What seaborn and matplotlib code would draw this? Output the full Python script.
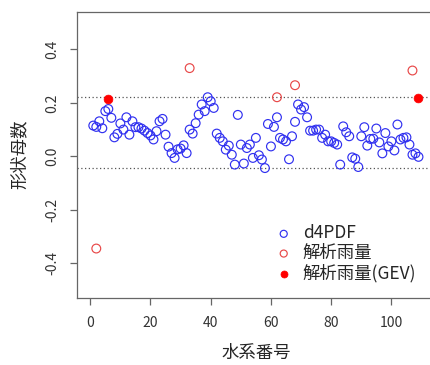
import matplotlib
matplotlib.use("Agg")
import matplotlib.pyplot as plt
import numpy as np
import pandas as pd
import seaborn as sns

# shape parameter per river system (d4PDF ensemble), index 1..109
d4pdf = [0.115, 0.110, 0.131, 0.105, 0.169, 0.177, 0.144, 0.071, 0.084, 0.123,
         0.100, 0.146, 0.081, 0.131, 0.109, 0.109, 0.104, 0.096, 0.087, 0.078,
         0.063, 0.094, 0.131, 0.140, 0.081, 0.036, 0.012, -0.006, 0.026, 0.029,
         0.041, 0.012, 0.100, 0.085, 0.124, 0.156, 0.194, 0.169, 0.221, 0.206,
         0.181, 0.085, 0.069, 0.056, 0.025, 0.040, 0.006, -0.031, 0.155, 0.044,
         -0.027, 0.031, 0.044, -0.006, 0.069, 0.004, -0.012, -0.044, 0.121, 0.037,
         0.110, 0.146, 0.069, 0.063, 0.056, -0.011, 0.075, 0.129, 0.194, 0.175,
         0.184, 0.146, 0.096, 0.096, 0.100, 0.100, 0.069, 0.081, 0.056, 0.056,
         0.050, 0.044, -0.031, 0.112, 0.090, 0.075, -0.004, -0.009, -0.040, 0.075,
         0.109, 0.040, 0.065, 0.066, 0.104, 0.052, 0.011, 0.087, 0.037, 0.056,
         0.022, 0.119, 0.063, 0.069, 0.071, 0.044, 0.006, 0.011, -0.002]
d4pdf_no = list(range(1, len(d4pdf) + 1))

# radar-raingauge analysed rainfall
obs_no = [2, 33, 62, 68, 107]
obs_val = [-0.345, 0.330, 0.221, 0.266, 0.321]

# analysed rainfall (GEV)
gev_no = [6, 109]
gev_val = [0.215, 0.218]

ytick_vals = [-0.4, -0.2, 0.0, 0.2, 0.4]
ytick_labels = ['-0.4', '-0.2', '0.0', '0.2', '0.4']

df_d4 = pd.DataFrame({"no": d4pdf_no, "xi": d4pdf})
df_obs = pd.DataFrame({"no": obs_no, "xi": obs_val})
df_gev = pd.DataFrame({"no": gev_no, "xi": gev_val})

sns.set_style("white")
plt.rcParams['font.family'] = ['Noto Sans CJK JP', 'DejaVu Sans']

fig = plt.figure(figsize=(4.31, 3.65), dpi=100)
ax = fig.add_axes([0.1787, 0.1836, 0.83, 0.7836])

# dotted lines at the d4PDF max / min
ax.axhline(max(d4pdf), color='#555555', ls=(0, (1, 2)), lw=0.9, zorder=1)
ax.axhline(min(d4pdf), color='#555555', ls=(0, (1, 2)), lw=0.9, zorder=1)

sns.scatterplot(data=df_d4, x="no", y="xi", ax=ax, marker='o', s=40,
                facecolor='none', edgecolor='#3030f0', linewidth=0.85,
                label='d4PDF', zorder=3)
sns.scatterplot(data=df_obs, x="no", y="xi", ax=ax, marker='o', s=40,
                facecolor='none', edgecolor='#e84848', linewidth=0.85,
                label='解析雨量', zorder=3)
sns.scatterplot(data=df_gev, x="no", y="xi", ax=ax, marker='o', s=40,
                color='#ff0000', edgecolor='#ff0000', linewidth=0.5,
                label='解析雨量(GEV)', zorder=4)

ax.set_xlim(-4.4, 114.4)
ax.set_ylim(-0.53, 0.54)
ax.set_xticks([0, 20, 40, 60, 80, 100])
ax.set_yticks(ytick_vals)
ax.set_yticklabels(ytick_labels)
for t in ax.get_yticklabels():
    t.set_rotation(90)
    t.set_rotation_mode('anchor')
    t.set_ha('center')
    t.set_va('bottom')

for sp in ax.spines.values():
    sp.set_color('#666666')
    sp.set_linewidth(0.9)
ax.tick_params(axis='both', direction='out', length=5, width=0.9, color='#666666',
               labelsize=10, labelcolor='#333333')
ax.tick_params(axis='x', pad=8, bottom=True)
ax.tick_params(axis='y', pad=7.5, left=True)

ax.set_xlabel('水系番号', fontsize=12.5, labelpad=10)
ax.set_ylabel('形状母数', fontsize=12.5)
ax.yaxis.set_label_coords(-0.136, 0.503)

ax.legend(loc='lower left', bbox_to_anchor=(0.505, 0.0), frameon=False,
          fontsize=12.5, handletextpad=0.5, labelspacing=0.1,
          markerscale=0.8, handlelength=1.2)

fig.savefig('out.png', dpi=100)
